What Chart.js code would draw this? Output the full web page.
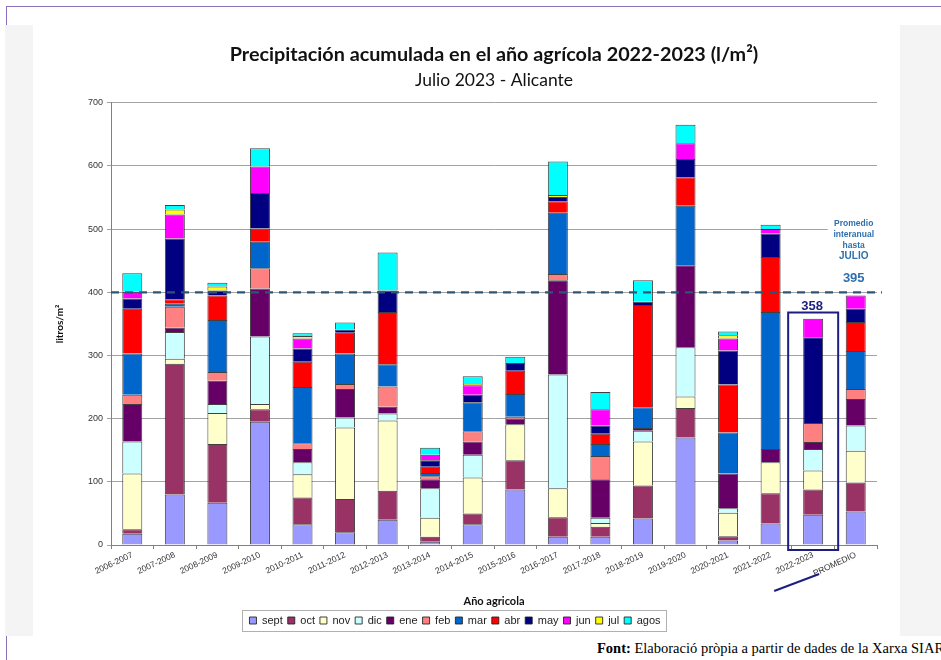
<!DOCTYPE html>
<html>
<head>
<meta charset="utf-8">
<script src="https://cdn.jsdelivr.net/npm/chart.js@4.4.0/dist/chart.umd.min.js"></script>
<style>
  html, body { margin: 0; padding: 0; background: #fff; width: 941px; height: 660px; overflow: hidden; }
  #frame { position: absolute; left: 6px; top: 6px; width: 940px; height: 660px; border-top: 1px solid #8c6fb8; border-left: 1px solid #8c6fb8; }
  #pic { position: absolute; left: 5px; top: 25px; width: 936px; height: 611px; background: #f4f4f4; }
  #wrap { position: absolute; left: 33px; top: 25px; width: 867px; height: 611px; background: #fff; }
  #note { position: absolute; left: 597px; top: 640px; font: 14.5px "Liberation Serif", serif; white-space: nowrap; color: #000; }
</style>
</head>
<body>
<div id="frame"></div>
<div id="pic"></div>
<div id="wrap"><canvas id="chart" width="867" height="611"></canvas></div>
<div id="note"><b>Font:</b> Elaboració pròpia a partir de dades de la Xarxa SIAR</div>
<script>
// Categories (agricultural years)
const years = ['2006-2007', '2007-2008', '2008-2009', '2009-2010', '2010-2011', '2011-2012',
  '2012-2013', '2013-2014', '2014-2015', '2015-2016', '2016-2017', '2017-2018',
  '2018-2019', '2019-2020', '2020-2021', '2021-2022', '2022-2023', 'PROMEDIO'];

// Monthly rainfall (l/m2), one array per month
const sept = [18, 80, 67, 195, 33, 20, 40, 5, 33, 88, 13, 13, 42, 170, 7, 34, 48, 53];
const oct  = [7, 207, 93, 20, 42, 53, 46, 8, 17, 46, 31, 16, 52, 47, 7, 48, 40, 46];
const nov  = [88, 8, 49, 8, 37, 113, 111, 30, 57, 57, 46, 6, 70, 18, 37, 49, 30, 50];
const dic  = [51, 42, 14, 107, 19, 16, 11, 47, 36, 0, 180, 8, 17, 78, 7, 0, 34, 40];
const ene  = [59, 7, 37, 76, 21, 45, 11, 14, 21, 9, 149, 61, 4, 130, 55, 21, 11, 42];
const feb  = [15, 33, 14, 32, 9, 8, 32, 5, 16, 3, 10, 37, 0, 0, 0, 0, 30, 16];
const mar  = [65, 5, 82, 42, 89, 48, 35, 5, 46, 36, 97, 19, 33, 94, 65, 217, 0, 60];
const abr  = [71, 7, 39, 21, 40, 33, 83, 10, 0, 37, 18, 16, 162, 45, 76, 87, 0, 46];
const may  = [16, 96, 8, 56, 21, 5, 34, 10, 12, 12, 7, 13, 5, 29, 54, 37, 136, 21];
const jun  = [11, 38, 0, 42, 16, 0, 0, 9, 15, 0, 0, 26, 0, 25, 19, 7, 29, 21];
const jul  = [0, 8, 6, 0, 4, 0, 0, 0, 2, 0, 3, 0, 0, 0, 5, 0, 0, 0];
const agos = [29, 7, 6, 29, 4, 11, 60, 11, 12, 10, 53, 27, 34, 29, 6, 7, 0, 0];

const monthNames = ['sept', 'oct', 'nov', 'dic', 'ene', 'feb', 'mar', 'abr', 'may', 'jun', 'jul', 'agos'];
const monthData = [sept, oct, nov, dic, ene, feb, mar, abr, may, jun, jul, agos];
const monthColors = ['#9999ff', '#993366', '#ffffcc', '#ccffff', '#660066', '#ff8080',
  '#0066cc', '#ff0000', '#000080', '#ff00ff', '#ffff00', '#00ffff'];

// Axis and reference values
const yMax = 700;
const yStep = 100;
const refLine = 400;
const refLabel = '395';
const refNote = ['Promedio', 'interanual', 'hasta', 'JULIO'];
const currentIdx = 16;
const currentLabel = '358';

const datasets = monthNames.map((m, i) => ({
  label: m,
  data: monthData[i],
  backgroundColor: monthColors[i],
  borderColor: 'rgba(30,30,30,0.85)',
  borderWidth: 1,
  barPercentage: 0.47,
  categoryPercentage: 1.0
}));

// Extra drawings: dashed average line, notes, highlight box, legend frame
const extras = {
  id: 'extras',
  afterDatasetsDraw(chart) {
    const ctx = chart.ctx;
    const xs = chart.scales.x, ys = chart.scales.y;
    const area = chart.chartArea;
    const yRef = ys.getPixelForValue(refLine);
    const cxP = xs.getPixelForValue(years.length - 1);
    const cxC = xs.getPixelForValue(currentIdx);
    ctx.save();

    // white patch behind the note
    ctx.fillStyle = '#fff';
    ctx.fillRect(cxP - 28, ys.getPixelForValue(522), 60, ys.getPixelForValue(448) - ys.getPixelForValue(522));

    // dashed line
    ctx.strokeStyle = '#2d5577';
    ctx.lineWidth = 2.2;
    ctx.setLineDash([8, 6]);
    ctx.beginPath();
    ctx.moveTo(area.left, yRef);
    ctx.lineTo(area.right + 5, yRef);
    ctx.stroke();
    ctx.setLineDash([]);

    // note text
    ctx.fillStyle = '#2e6fae';
    ctx.textAlign = 'center';
    ctx.textBaseline = 'middle';
    const noteY = [-69, -58, -47, -36];
    refNote.forEach((t, i) => {
      ctx.font = (i === 3 ? 'bold 10px' : 'bold 8.5px') + ' "Liberation Sans", Arial, sans-serif';
      ctx.fillText(t, cxP - 2, yRef + noteY[i]);
    });
    ctx.font = 'bold 13px "Liberation Sans", Arial, sans-serif';
    ctx.fillText(refLabel, cxP - 2, yRef - 14);

    // highlight box around current year
    ctx.strokeStyle = '#1e1e80';
    ctx.lineWidth = 2;
    const top = ys.getPixelForValue(368);
    const bottom = ys.getPixelForValue(0) + 5;
    ctx.strokeRect(cxC - 25, top, 50, bottom - top);
    ctx.fillStyle = '#1e1e80';
    ctx.font = 'bold 13px "Liberation Sans", Arial, sans-serif';
    ctx.fillText(currentLabel, cxC - 1, top - 6);

    // underline of the current year label
    const axisB = ys.getPixelForValue(0);
    ctx.lineWidth = 2;
    ctx.beginPath();
    ctx.moveTo(cxC - 39, axisB + 46);
    ctx.lineTo(cxC + 6, axisB + 29);
    ctx.stroke();
    ctx.restore();
  },
  afterDraw(chart) {
    const boxes = chart.legend.legendHitBoxes;
    if (!boxes || !boxes.length) return;
    let x0 = Infinity, x1 = -Infinity, y0 = Infinity, y1 = -Infinity;
    boxes.forEach(b => {
      x0 = Math.min(x0, b.left); x1 = Math.max(x1, b.left + b.width);
      y0 = Math.min(y0, b.top); y1 = Math.max(y1, b.top + b.height);
    });
    const ctx = chart.ctx;
    ctx.save();
    ctx.strokeStyle = '#b0b0b0';
    ctx.lineWidth = 1;
    ctx.strokeRect(Math.round(x0 - 7) + 0.5, Math.round(y0 - 5) + 0.5, Math.round(x1 - x0 + 13), Math.round(y1 - y0 + 10));
    ctx.restore();
  }
};

new Chart(document.getElementById('chart').getContext('2d'), {
  type: 'bar',
  data: { labels: years, datasets: datasets },
  plugins: [extras],
  options: {
    responsive: false,
    animation: false,
    layout: { padding: { top: 10, right: 23, bottom: 0, left: 0 } },
    plugins: {
      title: {
        display: true,
        fullSize: false,
        text: 'Precipitación acumulada en el año agrícola 2022-2023 (l/m²)',
        color: '#111',
        font: { family: 'Lato', size: 19.8, weight: 'bold' },
        padding: { top: 8, bottom: 0 }
      },
      subtitle: {
        display: true,
        fullSize: false,
        text: 'Julio 2023 - Alicante',
        color: '#111',
        font: { family: 'Lato', size: 17.5, weight: 'normal' },
        padding: { top: 3, bottom: 12 }
      },
      legend: {
        position: 'bottom',
        labels: {
          boxWidth: 7, boxHeight: 7, padding: 5,
          color: '#222',
          font: { family: '"Liberation Sans", Arial', size: 11 }
        }
      },
      tooltip: { enabled: false }
    },
    scales: {
      x: {
        stacked: true,
        afterFit(s) { s.height = 65; },
        grid: { drawOnChartArea: false, drawTicks: true, tickLength: 4, color: '#808080', offset: true },
        border: { color: '#808080' },
        ticks: {
          minRotation: 25, maxRotation: 25, autoSkip: false,
          color: '#333', padding: 1,
          font: { family: '"Liberation Sans", Arial', size: 8.5 }
        },
        title: {
          display: true, text: 'Año agricola', color: '#111',
          font: { family: 'Lato', size: 11, weight: 'bold' },
          padding: { top: 0, bottom: 2 }
        }
      },
      y: {
        stacked: true,
        min: 0, max: yMax,
        afterFit(s) { s.width = 78; },
        grid: { color: '#a3a3a3', lineWidth: 1, tickLength: 4 },
        border: { color: '#808080' },
        ticks: {
          stepSize: yStep, color: '#333', padding: 4,
          font: { family: '"Liberation Sans", Arial', size: 9 }
        },
        title: {
          display: true, text: 'litros/m²', color: '#111',
          font: { family: 'Lato', size: 10, weight: 'bold' },
          padding: { top: 21, bottom: 0 }
        }
      }
    }
  }
});
</script>
</body>
</html>
